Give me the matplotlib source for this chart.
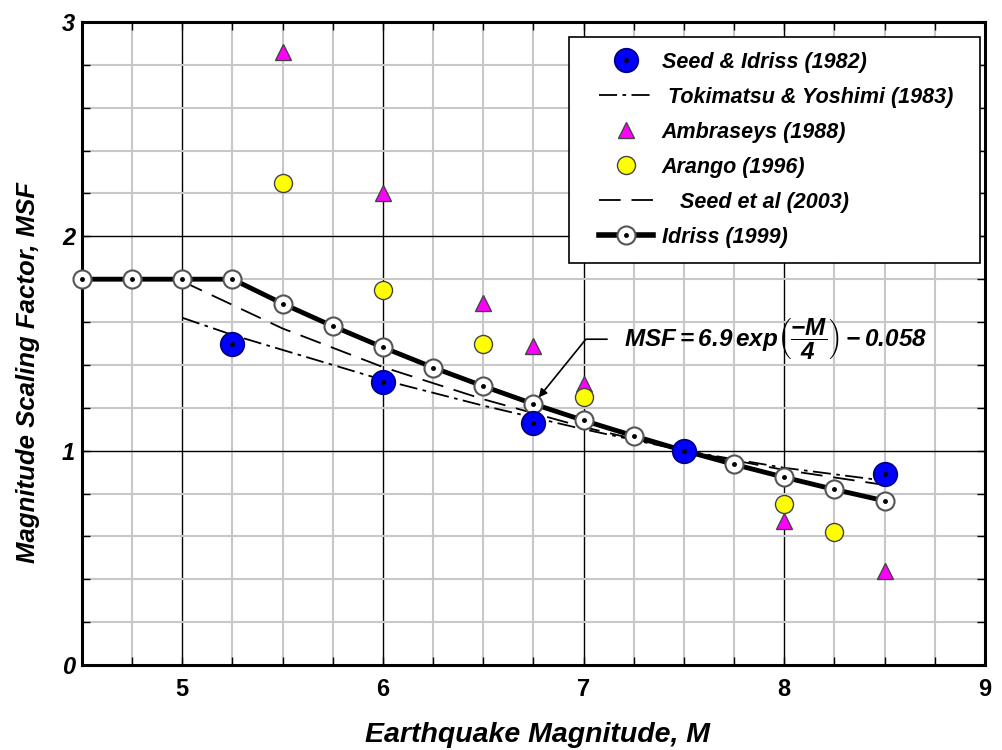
import matplotlib.pyplot as plt
from matplotlib.lines import Line2D
from matplotlib.legend_handler import HandlerTuple, HandlerLine2D
from matplotlib.ticker import MultipleLocator

# Idriss (1999) curve, points every 0.25
idriss_m = [4.5, 4.75, 5.0, 5.25, 5.5, 5.75, 6.0, 6.25, 6.5, 6.75, 7.0, 7.25, 7.5, 7.75, 8.0, 8.25, 8.5]
idriss_msf = [1.8, 1.8, 1.8, 1.8, 1.686, 1.581, 1.482, 1.388, 1.301, 1.218, 1.141, 1.069, 1.0, 0.936, 0.876, 0.819, 0.766]

seed82_m = [5.25, 6.0, 6.75, 7.5, 8.5]
seed82_msf = [1.5, 1.32, 1.13, 1.0, 0.89]

toki_m = [5.0, 5.25, 5.5, 5.75, 6.0, 6.5, 7.0, 7.5, 8.0, 8.5]
toki_msf = [1.62, 1.54, 1.47, 1.40, 1.33, 1.21, 1.10, 1.0, 0.92, 0.86]

ambr_m = [5.5, 6.0, 6.5, 6.75, 7.0, 8.0, 8.5]
ambr_msf = [2.86, 2.2, 1.69, 1.49, 1.31, 0.67, 0.44]

arango_m = [5.5, 6.0, 6.5, 7.0, 8.0, 8.25]
arango_msf = [2.25, 1.75, 1.5, 1.25, 0.75, 0.62]

seed03_m = [5.0, 5.5, 6.0, 6.5, 7.0, 7.5, 8.0, 8.5]
seed03_msf = [1.79, 1.57, 1.39, 1.24, 1.11, 1.0, 0.91, 0.84]

plt.rcParams['font.family'] = ['Liberation Sans', 'DejaVu Sans']
plt.rcParams['mathtext.fontset'] = 'custom'
plt.rcParams['mathtext.rm'] = 'Liberation Sans:bold:italic'
plt.rcParams['mathtext.it'] = 'Liberation Sans:bold:italic'
plt.rcParams['mathtext.bf'] = 'Liberation Sans:bold:italic'

fig = plt.figure(figsize=(10.02, 7.5), dpi=100)
ax = fig.add_axes([0.0818, 0.1133, 0.9012, 0.8574])

ax.set_xlim(4.5, 9)
ax.set_ylim(0, 3)
ax.xaxis.set_major_locator(MultipleLocator(1))
ax.xaxis.set_minor_locator(MultipleLocator(0.25))
ax.yaxis.set_major_locator(MultipleLocator(1))
ax.yaxis.set_minor_locator(MultipleLocator(0.2))
ax.grid(which='minor', color='#c8c8c8', lw=1.5, zorder=0)
ax.grid(which='major', color='black', lw=1.0, zorder=0)
ax.set_axisbelow(True)
ax.tick_params(which='both', direction='in', top=True, right=True, length=6, width=1)
ax.tick_params(axis='x', which='major', pad=9)
ax.tick_params(axis='y', which='major', pad=5)
for s in ax.spines.values():
    s.set_linewidth(2.2)

ax.set_xticks([5, 6, 7, 8, 9])
ax.set_xticklabels(['5', '6', '7', '8', '9'], fontsize=17, fontweight='bold')
ax.set_yticks([0, 1, 2, 3])
ax.set_yticklabels(['0', '1', '2', '3'], fontsize=17, fontweight='bold', style='italic')

ax.set_xlabel('Earthquake Magnitude, M', fontsize=20.5, fontweight='bold', style='italic')
ax.xaxis.set_label_coords(0.505, -0.089)
ax.set_ylabel('Magnitude Scaling Factor, MSF', fontsize=18.5, fontweight='bold', style='italic')
ax.yaxis.set_label_coords(-0.047, 0.455)

# curves
ax.plot(toki_m, toki_msf, color='black', lw=1.3, dashes=(10, 3, 2, 3), zorder=3)
ax.plot(seed03_m, seed03_msf, color='black', lw=1.3, dashes=(12, 6), zorder=3)
ax.plot(idriss_m, idriss_msf, color='black', lw=3.5, marker='o', ms=13, mfc='white',
        mec='#555555', mew=1.5, zorder=4, clip_on=False)
ax.plot(idriss_m, idriss_msf, ls='none', marker='o', ms=2.5, color='black', zorder=5, clip_on=False)

# data points
ax.plot(seed82_m, seed82_msf, ls='none', marker='o', ms=17, mfc='#0000ff', mec='#00007a', mew=1.2, zorder=6)
ax.plot(seed82_m, seed82_msf, ls='none', marker='o', ms=2.5, color='black', zorder=7)
ax.plot(ambr_m, ambr_msf, ls='none', marker='^', ms=12, mfc='#ff00ff', mec='#444444', mew=1, zorder=6)
ax.plot(arango_m, arango_msf, ls='none', marker='o', ms=13, mfc='#ffff00', mec='#444444', mew=1, zorder=6)

# formula annotation pointing at Idriss curve
ax.annotate(r'$MSF = 6.9\,exp\left(\dfrac{-M}{4}\right) - 0.058$',
            xy=(idriss_m[9], idriss_msf[9]), xytext=(7.2, 1.52),
            fontsize=17.5, ha='left', va='center', zorder=8,
            arrowprops=dict(arrowstyle='-|>', color='black', lw=1.2, mutation_scale=12,
                            relpos=(0, 0.5), shrinkA=10, shrinkB=6,
                            connectionstyle='angle,angleA=0,angleB=51,rad=0'))

# legend
dot = Line2D([], [], ls='none', marker='o', ms=2.5, color='black')
h_seed82 = (Line2D([], [], ls='none', marker='o', ms=17, mfc='#0000ff', mec='#00007a', mew=1.2), dot)
h_toki = Line2D([], [], color='black', lw=1.3, dashes=(10, 3, 2, 3))
h_ambr = Line2D([], [], ls='none', marker='^', ms=12, mfc='#ff00ff', mec='#444444', mew=1)
h_arango = Line2D([], [], ls='none', marker='o', ms=13, mfc='#ffff00', mec='#444444', mew=1)
h_seed03 = Line2D([], [], color='black', lw=1.3, dashes=(12, 6))
h_idriss = (Line2D([], [], color='black', lw=4, marker='o', ms=13, mfc='white', mec='#555555', mew=1.5), dot)

leg = ax.legend([h_seed82, h_toki, h_ambr, h_arango, h_seed03, h_idriss],
                ['Seed & Idriss (1982)', ' Tokimatsu & Yoshimi (1983)  ', 'Ambraseys (1988)',
                 'Arango (1996)', '   Seed et al (2003)', 'Idriss (1999)'],
                handler_map={tuple: HandlerTuple(ndivide=1, xpad=0.7),
                             Line2D: HandlerLine2D(xpad=0.7)},
                loc='upper right', bbox_to_anchor=(0.9945, 0.9767), borderaxespad=0,
                fancybox=False, framealpha=1, edgecolor='black', handlelength=3.2,
                handletextpad=0.4, labelspacing=0.65, borderpad=0.7,
                prop={'size': 15.5, 'weight': 'bold', 'style': 'italic'})
leg.get_frame().set_linewidth(1.2)
leg.set_zorder(10)

fig.savefig('out.png', dpi=100)
